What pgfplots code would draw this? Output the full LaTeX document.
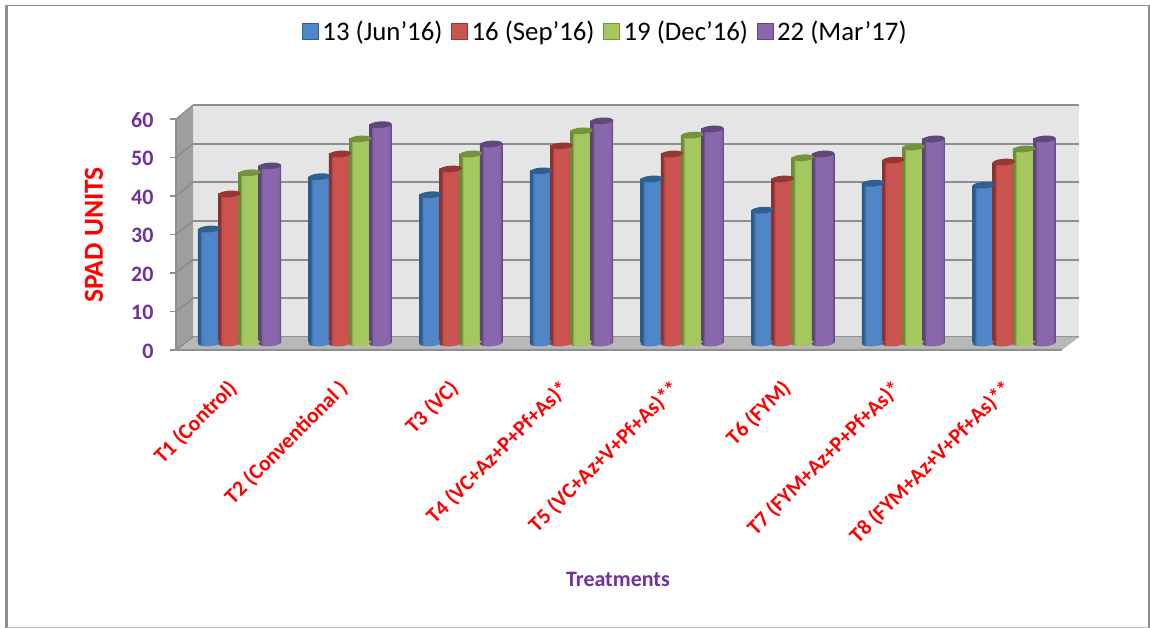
\documentclass[border=0pt]{standalone}
\usepackage{pgfplots}
\usepackage{pgfplotstable}
\pgfplotsset{compat=1.18}
\usepackage{fontspec}
\setmainfont{Carlito}
\definecolor{labpurple}{HTML}{7030A0}
\definecolor{gridgray}{HTML}{8E8E8E}
\definecolor{b0}{HTML}{2B5A8C}\definecolor{b1}{HTML}{4E86C8}\definecolor{b2}{HTML}{4A7DB8}\definecolor{bt}{HTML}{2F6090}
\definecolor{r0}{HTML}{8A302E}\definecolor{r1}{HTML}{CB5350}\definecolor{r2}{HTML}{C44F4C}\definecolor{rt}{HTML}{953735}
\definecolor{g0}{HTML}{6A8A35}\definecolor{g1}{HTML}{A4C85E}\definecolor{g2}{HTML}{9FC259}\definecolor{gt}{HTML}{76923C}
\definecolor{p0}{HTML}{5A4478}\definecolor{p1}{HTML}{8967AC}\definecolor{p2}{HTML}{8464A4}\definecolor{pt}{HTML}{5F497A}
\newcommand\declcyl[1]{%
  \pgfdeclarehorizontalshading{cyl#1}{100bp}{color(0bp)=(#10);color(25bp)=(#10);color(29bp)=(#10);color(33bp)=(#12);color(37bp)=(#11);color(64bp)=(#11);color(70bp)=(#12);color(75bp)=(#10);color(100bp)=(#10)}%
  \pgfdeclareplotmark{end#1}{%
    \pgfpathellipse{\pgfpointorigin}{\pgfpoint{11.25pt}{0.8pt}}{\pgfpoint{-0.3pt}{3.3pt}}%
    \pgfshadepath{cyl#1}{0}\pgfusepath{discard}}%
}
\declcyl{b}\declcyl{r}\declcyl{g}\declcyl{p}
\pgfdeclareplotmark{cyltop}{%
  \pgfpathellipse{\pgfpointorigin}{\pgfpoint{11.25pt}{0.8pt}}{\pgfpoint{-0.3pt}{3.3pt}}%
  \pgfusepathqfill}
\pgfplotstableread{
g  a    b    c    d
1  29.6 38.7 44.2 46.0
2  43.2 49.1 53.0 56.7
3  38.5 45.2 49.1 51.7
4  44.7 51.2 55.1 57.7
5  42.6 49.1 54.0 55.6
6  34.5 42.6 48.1 49.1
7  41.5 47.5 50.9 53.0
8  41.0 47.0 50.4 53.0
}\treat
\pgfplotstableread{
g  z
1  0
2  0
3  0
4  0
5  0
6  0
7  0
8  0
}\zeros
\pgfplotsset{
  squareleg/.style 2 args={legend image code/.code={
    \fill[#1,draw=#2,line width=1pt] (0pt,-8pt) rectangle (16pt,8pt);}},
}
% one series: #1 offset, #2 column, #3 letter, #4 colour of the top
\newcommand\cylseries[4]{%
  \addplot[only marks,mark=end#3,forget plot] table[x expr=\thisrow{g}#1,y=z]{\zeros};
  \pgfplotsinvokeforeach{1,...,8}{%
    \addplot[ybar,bar shift=0pt,shade,shading=cyl#3,draw=none,forget plot,
      restrict expr to domain={\thisrow{g}}{##1:##1}]
      table[x expr=\thisrow{g}#1,y=#2]{\treat};
  }
  \addplot[only marks,mark=cyltop,color=#4,forget plot] table[x expr=\thisrow{g}#1,y=#2]{\treat};
}
\begin{document}
\begin{tikzpicture}[x=1pt,y=1pt]
\useasboundingbox (0,0) rectangle (1150,628);
% frame
\draw[color=gridgray,line width=1.6pt] (6.5,622.5) -- (1149,622.5) -- (1149,0);
\draw[color=gridgray,line width=3pt] (6.8,0) -- (6.8,623);
\draw[color=black!25,line width=1pt] (6.5,0.7) -- (1149,0.7);
% back wall
\begin{axis}[name=wall,at={(193pt,291pt)},anchor=origin,scale only axis,width=886pt,height=232pt,
  xmin=0,xmax=8,ymin=0,ymax=60,xtick=\empty,ytick={0,10,...,60},yticklabels={},
  major tick length=0pt,ymajorgrids,
  grid style={color=gridgray,line width=2.2pt},
  axis line style={draw=none},
  axis background/.style={fill=black!10}]
\end{axis}
% side wall and floor
\fill[color=black!38] (176,278) -- (193,291) -- (193,523) -- (176,509) -- cycle;
\fill[color=black!28] (176,278) -- (1062,278) -- (1079,291) -- (193,291) -- cycle;
\foreach \yy in {0,...,6}{
  \draw[color=black!48,line width=1pt] (176,{278+38.5*\yy}) -- (193,{291+38.67*\yy});}
% front plane with the labels
\begin{axis}[at={(176pt,278pt)},anchor=origin,scale only axis,width=886pt,height=231pt,
  xmin=0,xmax=8,ymin=0,ymax=60,
  axis y line*=left,axis x line*=bottom,
  axis line style={color=gridgray,line width=2pt,-},
  ytick={0,10,...,60},
  ytick style={color=gridgray,line width=1.5pt},
  tick align=outside,major tick length=6pt,
  /pgf/number format/assume math mode=true,
  yticklabel style={color=labpurple,font=\fontsize{22}{26}\selectfont\bfseries,xshift=-13pt,yshift=-1pt},
  xtick={0.5,1.5,...,7.5},
  x tick style={draw=none},
  xticklabels={T1 (Control),T2 (Conventional ),T3 (VC),T4 (VC+Az+P+Pf+As)*,T5 (VC+Az+V+Pf+As)**,T6 (FYM),T7 (FYM+Az+P+Pf+As)*,T8 (FYM+Az+V+Pf+As)**},
  xticklabel style={rotate=45,anchor=north east,color=red,font=\fontsize{21.6}{26}\selectfont\bfseries,inner sep=0pt,yshift=-12pt,xshift=-19pt},
  clip=false]
\end{axis}
\node[rotate=90,color=red,font=\fontsize{27.5}{32}\selectfont\bfseries] at (94,393) {SPAD UNITS};
\node[color=labpurple,font=\fontsize{22}{26}\selectfont\bfseries] at (618,49) {Treatments};
% cylinders
\begin{axis}[at={(128.85pt,285pt)},anchor=origin,scale only axis,width=995.85pt,height=231pt,
  xmin=0,xmax=9,ymin=0,ymax=60,hide axis,clip=false,
  bar width=22.5pt,
  legend columns=4,
  legend style={at={(axis cs:4.313,81.0)},anchor=center,draw=none,fill=none,
    font=\fontsize{26.8}{30}\selectfont,inner sep=0pt,
    nodes={inner xsep=3.5pt},
    /tikz/every even column/.append style={column sep=5pt}},
  legend cell align=left]
\cylseries{-0.2739}{a}{b}{bt}
\cylseries{-0.0913}{b}{r}{rt}
\cylseries{+0.0913}{c}{g}{gt}
\cylseries{+0.2739}{d}{p}{pt}
\addlegendimage{squareleg={b1}{b2!75!black}}\addlegendentry{13 (Jun’16)}
\addlegendimage{squareleg={r1}{r2!75!black}}\addlegendentry{16 (Sep’16)}
\addlegendimage{squareleg={g1}{g2!75!black}}\addlegendentry{19 (Dec’16)}
\addlegendimage{squareleg={p1}{p2!75!black}}\addlegendentry{22 (Mar’17)}
\end{axis}
\end{tikzpicture}
\end{document}
